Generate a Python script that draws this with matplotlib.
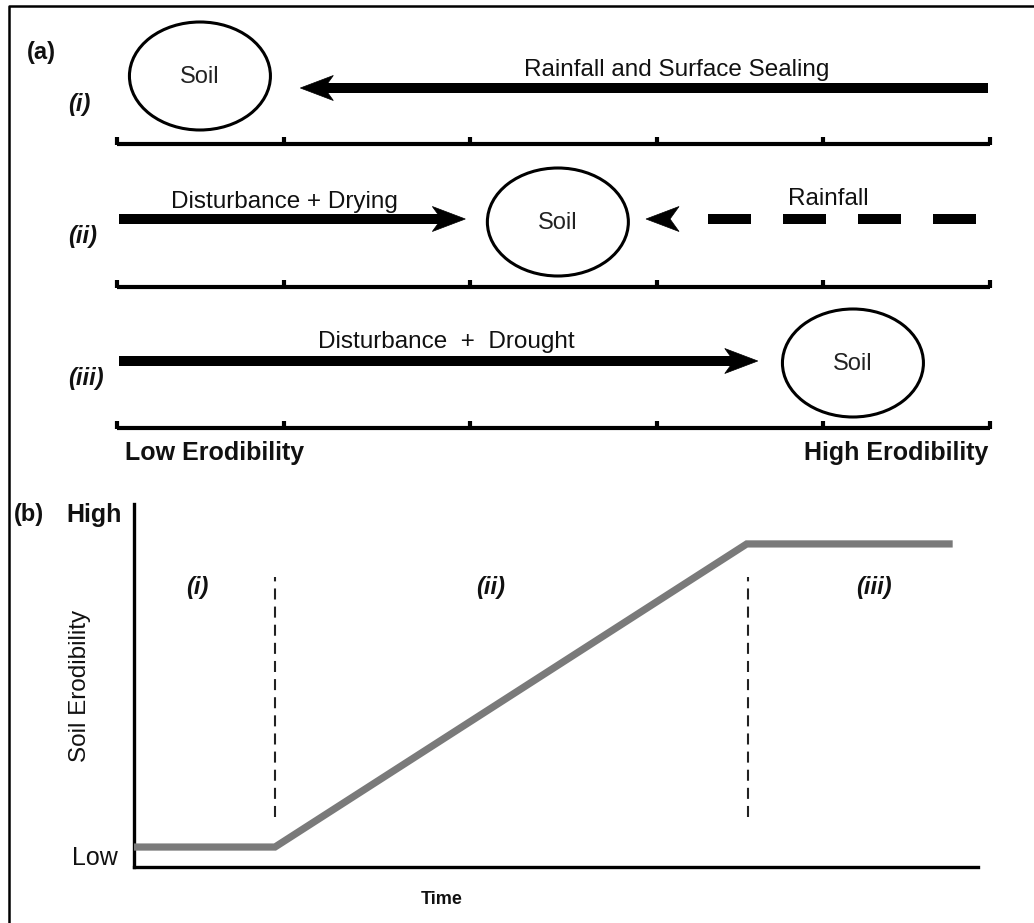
import matplotlib
matplotlib.use("Agg")
import matplotlib.pyplot as plt
from matplotlib.patches import Ellipse, Polygon
from matplotlib.lines import Line2D
import matplotlib.transforms as mtransforms

plt.rcParams['font.family'] = ['Liberation Sans', 'DejaVu Sans']

# ---------------- data ----------------
# panel (a): erodibility scale (0 = low, 10 = high)
scale_ticks = [0.0, 1.91, 4.04, 6.19, 8.09, 10.0]
row_labels = ['(i)', '(ii)', '(iii)']
soil_positions = [0.95, 5.05, 8.43]
process_labels = ['Rainfall and Surface Sealing', 'Disturbance + Drying',
                  'Rainfall', 'Disturbance  +  Drought']
process_rows = [0, 1, 1, 2]
process_start = [9.98, 0.02, 9.84, 0.02]
process_end = [2.10, 3.99, 6.06, 7.34]
process_dashed = [False, False, True, False]
process_label_x = [6.41, 1.92, 8.15, 3.77]
scale_end_labels = ['Low Erodibility', 'High Erodibility']

# panel (b): soil erodibility through time
time_pts = [0.0, 1.67, 7.26, 9.70]
erodibility = [0.055, 0.055, 0.89, 0.89]
phase_bounds = [1.67, 7.28]
phase_labels = ['(i)', '(ii)', '(iii)']
phase_label_x = [0.75, 4.22, 8.77]
y_level_labels = ['Low', 'High']

# ---------------- layout ----------------
W, H, DPI = 1034, 923, 100
fig = plt.figure(figsize=(W / DPI, H / DPI), dpi=DPI)

# outer frame (top and left edges visible)
fig.add_artist(Line2D([9 / W, 9 / W, 1.0], [0.0, 1 - 6 / H, 1 - 6 / H],
                      transform=fig.transFigure, color='black', lw=1.8))

# ---- panel (a) ----
A_TOP_PX = 480
axa = fig.add_axes([0, 1 - A_TOP_PX / H, 1, A_TOP_PX / H])
px_per_unit = (990 - 117) / 10.0
axa.set_xlim(-117 / px_per_unit, (W - 117) / px_per_unit)
axa.set_ylim(A_TOP_PX, 0)
axa.axis('off')

RULER_Y = [144, 287, 428]
ARROW_Y = [88, 219, 361]
SOIL_Y = [76, 222, 363]
LABEL_Y = [70, 202, 199, 342]
ROWLAB_Y = [105, 236, 378]
SOIL_W = 141 / px_per_unit
SOIL_H = 108
TICK_H = 7

for r in range(3):
    yb = RULER_Y[r]
    axa.plot([scale_ticks[0], scale_ticks[-1]], [yb, yb], color='black',
             lw=3, solid_capstyle='butt', clip_on=False)
    axa.vlines(scale_ticks, yb + 1, yb - TICK_H, color='black', lw=3, clip_on=False)
    e = Ellipse((soil_positions[r], SOIL_Y[r]), SOIL_W, SOIL_H, fill=False,
                ec='black', lw=2.2, clip_on=False)
    axa.add_patch(e)
    axa.text(soil_positions[r], SOIL_Y[r] + 1, 'Soil', ha='center', va='center',
             fontsize=17, color='#222222')
    axa.text(-117 / px_per_unit + 68 / px_per_unit, ROWLAB_Y[r], row_labels[r],
             ha='left', va='center', fontsize=17, fontweight='bold',
             fontstyle='italic', color='#111111')

HEAD_L, HEAD_HW, HEAD_NOTCH = 33, 12.5, 9


def arrowhead(ax, x, y, direction):
    s = direction  # +1 points right, -1 points left
    verts = [(0, 0), (-s * HEAD_L, HEAD_HW), (-s * (HEAD_L - HEAD_NOTCH), 0),
             (-s * HEAD_L, -HEAD_HW)]
    verts = [(vx / DPI, vy / DPI) for vx, vy in verts]
    tr = fig.dpi_scale_trans + mtransforms.ScaledTranslation(x, y, ax.transData)
    ax.add_patch(Polygon(verts, closed=True, transform=tr, fc='black',
                         ec='black', lw=0.5, clip_on=False))


for i in range(len(process_labels)):
    r = process_rows[i]
    y = ARROW_Y[r]
    x0, x1 = process_start[i], process_end[i]
    d = 1 if x1 > x0 else -1
    if process_dashed[i]:
        shaft_end = x1 - d * 61 / px_per_unit
        axa.plot([x0, shaft_end], [y, y], color='black', lw=7.2,
                 linestyle=(0, (4.3, 3.2)), dash_capstyle='butt', clip_on=False)
    else:
        shaft_end = x1 - d * (HEAD_L - HEAD_NOTCH - 2) / px_per_unit
        axa.plot([x0, shaft_end], [y, y], color='black', lw=7.2,
                 solid_capstyle='butt', clip_on=False)
    arrowhead(axa, x1, y, d)
    axa.text(process_label_x[i], LABEL_Y[i], process_labels[i], ha='center',
             va='center', fontsize=17.5, color='#111111')

axa.text((125 - 117) / px_per_unit, 453, scale_end_labels[0], ha='left',
         va='center', fontsize=18, fontweight='bold', color='#111111')
axa.text((988 - 117) / px_per_unit, 453, scale_end_labels[1], ha='right',
         va='center', fontsize=18, fontweight='bold', color='#111111')
axa.text((27 - 117) / px_per_unit, 53, '(a)', ha='left', va='center',
         fontsize=17, fontweight='bold', color='#111111')

# ---- panel (b) ----
L, R, T, B = 134, 978, 504, 867
axb = fig.add_axes([L / W, 1 - B / H, (R - L) / W, (B - T) / H])
axb.set_xlim(0, 10)
axb.set_ylim(0, 1)
for s in ['top', 'right']:
    axb.spines[s].set_visible(False)
for s in ['left', 'bottom']:
    axb.spines[s].set_linewidth(2.4)
    axb.spines[s].set_color('black')
axb.set_xticks([])
axb.set_yticks([])

axb.plot(time_pts, erodibility, color='#7a7a7a', lw=5.2,
         solid_joinstyle='miter', solid_capstyle='butt', clip_on=False, zorder=3)
axb.vlines(phase_bounds, 0.138, 0.80, color='#222222', lw=1.5,
           linestyles=(0, (5.3, 3.4)))
for lab, x in zip(phase_labels, phase_label_x):
    axb.text(x, 0.77, lab, ha='center', va='center', fontsize=17,
             fontweight='bold', fontstyle='italic', color='#111111')

fig.text(14 / W, 1 - 515 / H, '(b)', ha='left', va='center', fontsize=17,
         fontweight='bold', color='#111111')
fig.text(122 / W, 1 - 515 / H, y_level_labels[1], ha='right', va='center',
         fontsize=18, fontweight='bold', color='#111111')
fig.text(118 / W, 1 - 858 / H, y_level_labels[0], ha='right', va='center',
         fontsize=18, color='#111111')
fig.text(80 / W, 1 - 686 / H, 'Soil Erodibility', ha='center', va='center',
         rotation=90, fontsize=17.5, color='#111111')
fig.text(442 / W, 1 - 900 / H, 'Time', ha='center', va='center', fontsize=13,
         fontweight='bold', color='#111111')

fig.savefig('out.png', dpi=DPI, facecolor='white')
